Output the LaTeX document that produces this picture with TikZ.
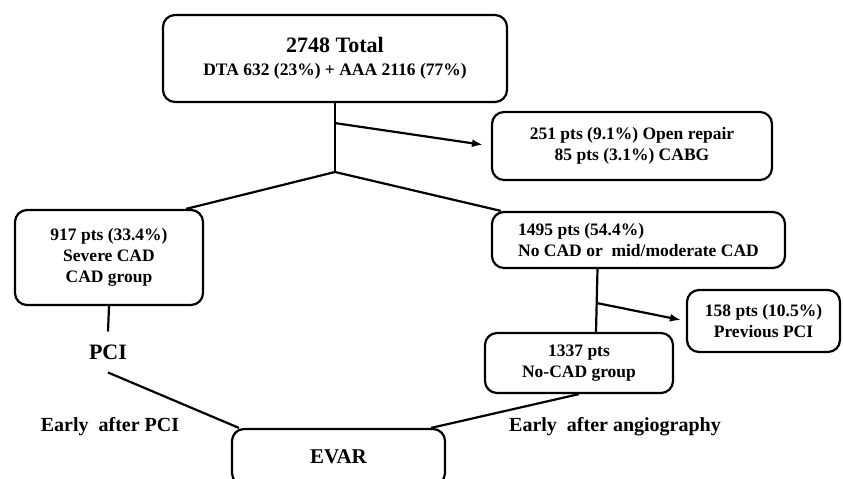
\documentclass[tikz,border=0pt]{standalone}
\usepackage{fontspec}
\setmainfont{Liberation Serif}
\usetikzlibrary{arrows.meta}
\usetikzlibrary{calc}

\begin{document}
\begin{tikzpicture}[x=1pt, y=-1pt, line width=2.2pt, >={Latex[length=11pt,width=8pt]},
        box/.style={draw, rounded corners=12pt, inner sep=0pt, align=center,
          font=\fontsize{17.5}{21}\selectfont\bfseries},
        lbl/.style={inner sep=0pt, font=\fontsize{20}{24}\selectfont\bfseries}]
        \useasboundingbox (0,0) rectangle (843,479);
        \clip (0,0) rectangle (843,479);

        % boxes
        \node[box, minimum width=344pt, minimum height=87pt] (total) at (335,58.5)
          {{\fontsize{22}{24}\selectfont 2748 Total}\\[2pt] DTA 632 (23\%) + AAA 2116 (77\%)};
        \node[box, minimum width=280pt, minimum height=68pt] (excl) at (632,146)
          {251 pts (9.1\%) Open repair\\ 85 pts (3.1\%) CABG};
        \node[box, minimum width=188pt, minimum height=95pt] (cad) at (109,257.5)
          {917 pts (33.4\%)\\ Severe CAD\\ CAD group};
        \node[box, align=left, minimum width=293pt, minimum height=56pt] (nocad) at (638.5,240)
          {1495 pts (54.4\%)\\ No CAD or\ \ mid/moderate CAD};
        \node[box, minimum width=153pt, minimum height=62pt] (prev) at (763.5,321)
          {158 pts (10.5\%)\\ Previous PCI};
        \node[box, minimum width=188pt, minimum height=60pt] (grp) at (579,363)
          {1337 pts\\ No-CAD group};
        \node[box, minimum width=213pt, minimum height=56pt,
          font=\fontsize{21}{24}\selectfont\bfseries] (evar) at (338.5,457) {EVAR};

        % labels
        \node[lbl, inner ysep=12pt, font=\fontsize{22}{24}\selectfont\bfseries] (pci) at (108,352) {PCI};
        \node[lbl] (early1) at (110,427) {Early\ \ after PCI};
        \node[lbl] (early2) at (615,427) {Early\ \ after angiography};

        % connectors
        \coordinate (split) at (335,172);
        \coordinate (fork) at ($(total.south)!0.29!(split)$);
        \draw (total.south) -- (split);
        \draw[->, shorten >=8pt] (fork) -- (excl.west);
        \draw (split) -- ($(cad.north east)+(-18,0)$);
        \draw (split) -- ($(nocad.north west)+(10,0)$);

        \draw (cad.south) -- (pci.north);
        \draw (pci.south) -- ($(evar.north west)+(8,0)$);

        \coordinate (nocadout) at ($(nocad.south)+(-41,0)$);
        \coordinate (grpin) at ($(grp.north)+(17,0)$);
        \coordinate (fork2) at ($(nocadout)!0.54!(grpin)$);
        \draw (nocadout) -- (grpin);
        \draw[->, shorten >=5pt] (fork2) -- (prev.west);
        \draw (grp.south) -- ($(evar.north east)+(-15,0)$);
      \end{tikzpicture}
\end{document}
